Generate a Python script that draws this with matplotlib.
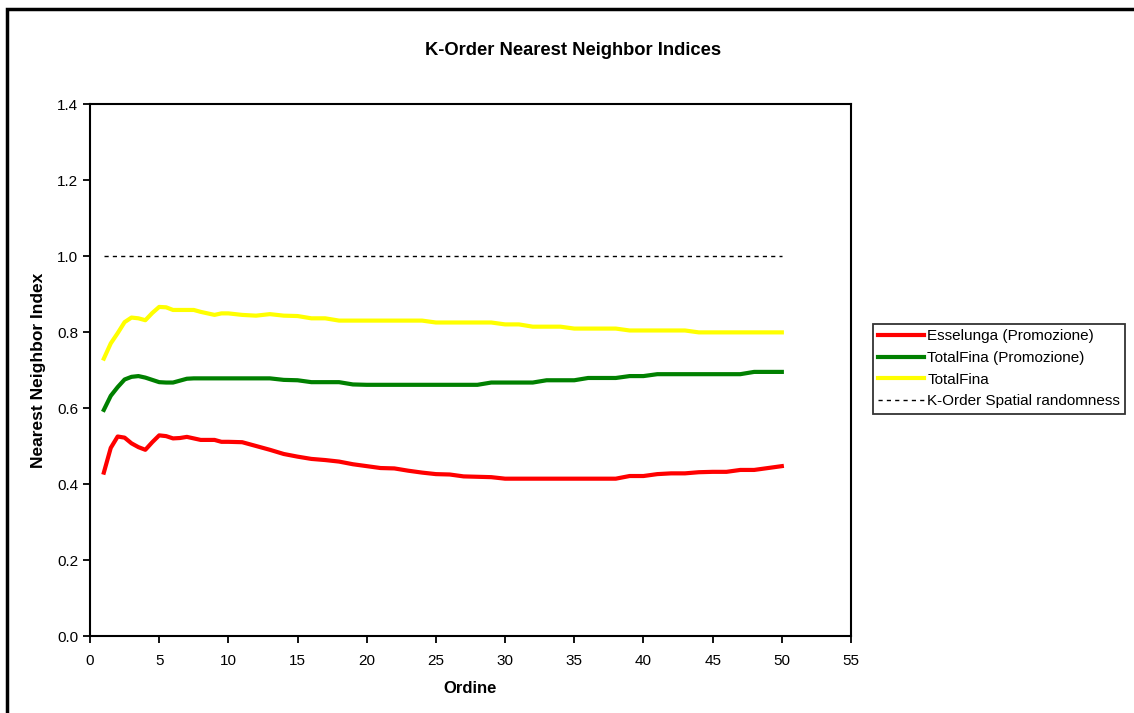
import matplotlib
matplotlib.use('Agg')
import matplotlib.pyplot as plt
from matplotlib.patches import Rectangle

plt.rcParams['font.family'] = ['Liberation Sans', 'DejaVu Sans']

# ordine k
ordine = [1, 1.5, 2, 2.5, 3, 3.5, 4, 4.5, 5, 5.5, 6, 6.5, 7, 7.5, 8, 8.5, 9, 9.5, 10,
          11, 12, 13, 14, 15, 16, 17, 18, 19, 20, 21, 22, 23, 24, 25, 26, 27, 28, 29, 30,
          31, 32, 33, 34, 35, 36, 37, 38, 39, 40, 41, 42, 43, 44, 45, 46, 47, 48, 49, 50]

esselunga_promo = [0.430, 0.495, 0.525, 0.522, 0.507, 0.497, 0.490, 0.510, 0.528, 0.526,
                   0.520, 0.521, 0.524, 0.520, 0.516, 0.516, 0.516, 0.511, 0.511,
                   0.510, 0.500, 0.490, 0.479, 0.472, 0.466, 0.463, 0.459, 0.452, 0.447,
                   0.442, 0.441, 0.435, 0.430, 0.426, 0.425, 0.420, 0.419, 0.418, 0.414,
                   0.414, 0.414, 0.414, 0.414, 0.414, 0.414, 0.414, 0.414, 0.421, 0.421,
                   0.426, 0.428, 0.428, 0.431, 0.432, 0.432, 0.437, 0.437, 0.442, 0.447]

totalfina_promo = [0.595, 0.632, 0.655, 0.675, 0.682, 0.684, 0.680, 0.674, 0.668, 0.667,
                   0.667, 0.672, 0.677, 0.678, 0.678, 0.678, 0.678, 0.678, 0.678,
                   0.678, 0.678, 0.678, 0.674, 0.673, 0.668, 0.668, 0.668, 0.662, 0.661,
                   0.661, 0.661, 0.661, 0.661, 0.661, 0.661, 0.661, 0.661, 0.667, 0.667,
                   0.667, 0.667, 0.673, 0.673, 0.673, 0.679, 0.679, 0.679, 0.684, 0.684,
                   0.689, 0.689, 0.689, 0.689, 0.689, 0.689, 0.689, 0.695, 0.695, 0.695]

totalfina = [0.730, 0.770, 0.797, 0.826, 0.838, 0.836, 0.831, 0.850, 0.866, 0.865,
             0.858, 0.858, 0.858, 0.858, 0.853, 0.849, 0.845, 0.849, 0.849,
             0.845, 0.843, 0.847, 0.843, 0.842, 0.836, 0.836, 0.830, 0.830, 0.830,
             0.830, 0.830, 0.830, 0.830, 0.825, 0.825, 0.825, 0.825, 0.825, 0.820,
             0.820, 0.814, 0.814, 0.814, 0.809, 0.809, 0.809, 0.809, 0.804, 0.804,
             0.804, 0.804, 0.804, 0.799, 0.799, 0.799, 0.799, 0.799, 0.799, 0.799]

random_x = [1, 50]
random_y = [1.0, 1.0]

fig = plt.figure(figsize=(11.34, 7.13), dpi=100)
ax = fig.add_axes([90/1134, 77/713, 761/1134, 532/713])

l1, = ax.plot(ordine, esselunga_promo, color='#FF0000', lw=3)
l2, = ax.plot(ordine, totalfina_promo, color='#008000', lw=3)
l3, = ax.plot(ordine, totalfina, color='#FFFF00', lw=3)
l4, = ax.plot(random_x, random_y, color='black', lw=1, linestyle=(0, (3, 3)))

ax.set_xlim(0, 55)
ax.set_ylim(0, 1.4)
ax.set_xticks(range(0, 56, 5))
ax.set_yticks([0, 0.2, 0.4, 0.6, 0.8, 1.0, 1.2, 1.4])
ax.set_yticklabels(['%.1f' % v for v in [0, 0.2, 0.4, 0.6, 0.8, 1.0, 1.2, 1.4]])
ax.tick_params(direction='out', length=5, width=1.3, labelsize=11, colors='black')
ax.tick_params(axis='x', pad=8)
for s in ax.spines.values():
    s.set_linewidth(1.5)
    s.set_color('black')

ax.set_xlabel('Ordine', fontsize=12, fontweight='bold', labelpad=9)
ax.set_ylabel('Nearest Neighbor Index', fontsize=12.5, fontweight='bold', labelpad=8)
fig.text(0.505, 0.929, 'K-Order Nearest Neighbor Indices', ha='center', va='center',
         fontsize=13.2, fontweight='bold')

leg = fig.legend([l1, l2, l3, l4],
                 ['Esselunga (Promozione)', 'TotalFina (Promozione)', 'TotalFina',
                  'K-Order Spatial randomness'],
                 loc='upper left', bbox_to_anchor=(873/1134, 1 - 324/713),
                 fontsize=11, frameon=True, fancybox=False, shadow=False,
                 handlelength=3.0, handletextpad=0.2, borderpad=0.35, labelspacing=0.5,
                 borderaxespad=0)
leg.get_frame().set_edgecolor('black')
leg.get_frame().set_linewidth(1.3)

# outer chart border (left and top visible)
fig.patches.append(Rectangle((7/1134, -0.2), 1.2, 1.2 - 9/713, transform=fig.transFigure,
                             fill=False, edgecolor='black', linewidth=2.5, clip_on=False))

fig.savefig('out.png', dpi=100)
